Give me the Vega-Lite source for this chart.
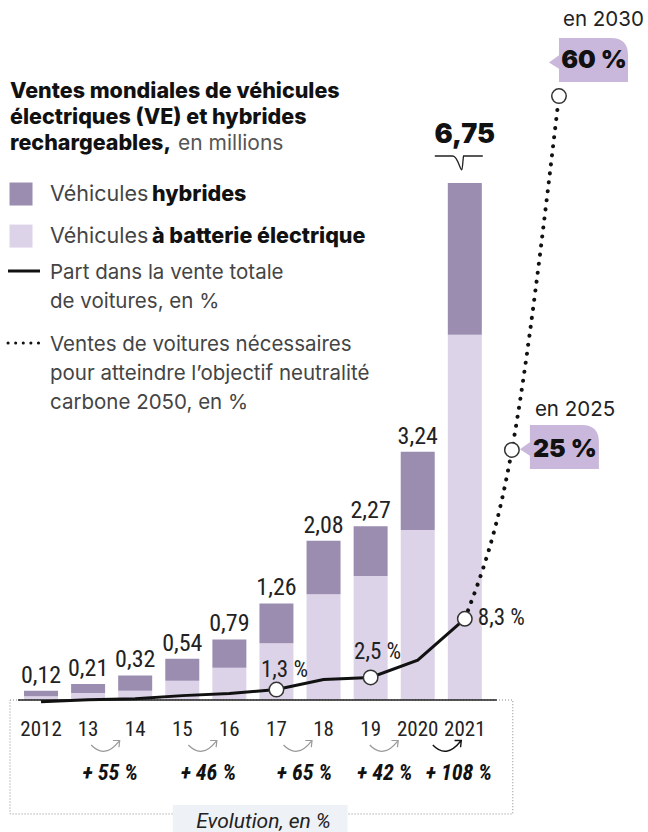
{
  "$schema": "https://vega.github.io/schema/vega-lite/v6.json",
  "width": 600,
  "height": 700,
  "autosize": "none",
  "padding": {"left": 0, "top": 0, "right": 48, "bottom": 132},
  "background": "white",
  "data": {"values": [{}]},
  "config": {
    "view": {"stroke": null},
    "axisX": {"domain": false, "ticks": false, "tickSize": 0, "grid": false, "labelFont": "Roboto Condensed, Liberation Sans Narrow, DejaVu Sans Condensed, Roboto", "labelFontSize": 21, "labelColor": "#222", "labelBaseline": "alphabetic", "labelPadding": 35, "labelAngle": 0, "titleOpacity": 0},
    "axisY": {"disable": true},
    "locale": {"number": {"decimal": ",", "thousands": " ", "grouping": [3], "currency": ["", " €"]}}
  },
  "datasets": {
    "sales": [
      {"year": "2012", "type": "batterie", "value": 0.05}, {"year": "2012", "type": "hybrides", "value": 0.07},
      {"year": "2013", "type": "batterie", "value": 0.09}, {"year": "2013", "type": "hybrides", "value": 0.12},
      {"year": "2014", "type": "batterie", "value": 0.12}, {"year": "2014", "type": "hybrides", "value": 0.20},
      {"year": "2015", "type": "batterie", "value": 0.25}, {"year": "2015", "type": "hybrides", "value": 0.29},
      {"year": "2016", "type": "batterie", "value": 0.42}, {"year": "2016", "type": "hybrides", "value": 0.37},
      {"year": "2017", "type": "batterie", "value": 0.74}, {"year": "2017", "type": "hybrides", "value": 0.52},
      {"year": "2018", "type": "batterie", "value": 1.38}, {"year": "2018", "type": "hybrides", "value": 0.70},
      {"year": "2019", "type": "batterie", "value": 1.62}, {"year": "2019", "type": "hybrides", "value": 0.65},
      {"year": "2020", "type": "batterie", "value": 2.22}, {"year": "2020", "type": "hybrides", "value": 1.02},
      {"year": "2021", "type": "batterie", "value": 4.77}, {"year": "2021", "type": "hybrides", "value": 1.98}
    ],
    "share": [
      {"year": "2012", "share": 0.1}, {"year": "2013", "share": 0.3}, {"year": "2014", "share": 0.4},
      {"year": "2015", "share": 0.7}, {"year": "2016", "share": 0.9}, {"year": "2017", "share": 1.3},
      {"year": "2018", "share": 2.3}, {"year": "2019", "share": 2.5}, {"year": "2020", "share": 4.2},
      {"year": "2021", "share": 8.3}
    ],
    "target": [
      {"year": "2021", "share": 8.3}, {"year": "2025", "share": 25}, {"year": "2030", "share": 60}
    ]
  },
  "layer": [
    {
      "layer": [
        {
          "data": {"name": "sales"},
          "mark": {"type": "bar"},
          "encoding": {
            "x": {"field": "year", "type": "nominal", "title": null,
                  "scale": {"domain": ["2012","2013","2014","2015","2016","2017","2018","2019","2020","2021","2025","2030"], "paddingInner": 0.278, "paddingOuter": 0.51},
                  "axis": {"title": null, "labelExpr": "datum.value == '2025' || datum.value == '2030' ? '' : (datum.value == '2012' || datum.value == '2020' || datum.value == '2021' ? datum.value : slice(datum.value, 2))"}},
            "y": {"field": "value", "type": "quantitative", "stack": "zero", "scale": {"domain": [0, 9.139], "nice": false, "zero": false}, "axis": null},
            "color": {"field": "type", "type": "nominal", "scale": {"domain": ["batterie", "hybrides"], "range": ["#ddd3e8", "#9a8db0"]}, "legend": null},
            "order": {"field": "type", "sort": "ascending"}
          }
        },
        {
          "mark": {"type": "rect", "fill": null, "stroke": "#888", "strokeWidth": 1, "strokeDash": [1, 2], "xOffset": -31, "x2Offset": 48},
          "encoding": {"x": {"datum": "2012"}, "x2": {"datum": "2021"}, "y": {"datum": 0}, "y2": {"datum": -1.488}}
        },
        {
          "mark": {"type": "rect", "fill": "#eef1f5", "xOffset": -9.5, "x2Offset": 24},
          "encoding": {"x": {"datum": "2015"}, "x2": {"datum": "2018"}, "y": {"datum": -1.371}, "y2": {"datum": -1.75}}
        },
        {
          "mark": {"type": "text", "font": "Roboto", "fontStyle": "italic", "fontSize": 21, "color": "#222", "baseline": "alphabetic", "align": "center", "dx": -13, "text": "Evolution, en %"},
          "encoding": {"x": {"datum": "2017"}, "y": {"datum": -1.671}}
        },
        {
          "mark": {"type": "rule", "color": "#222", "strokeWidth": 1.5, "xOffset": -23, "x2Offset": 32},
          "encoding": {"x": {"datum": "2012"}, "x2": {"datum": "2021"}, "y": {"datum": 0}}
        },
        {
          "data": {"name": "sales"},
          "transform": [{"aggregate": [{"op": "sum", "field": "value", "as": "total"}], "groupby": ["year"]}, {"filter": "datum.year != '2021'"}],
          "mark": {"type": "text", "font": "Roboto Condensed, Liberation Sans Narrow, DejaVu Sans Condensed, Roboto", "fontSize": 24, "baseline": "alphabetic", "dy": -8, "color": "#222"},
          "encoding": {
            "x": {"field": "year", "type": "nominal"},
            "y": {"field": "total", "type": "quantitative"},
            "text": {"field": "total", "type": "quantitative", "format": ".2f"}
          }
        },
        {
          "data": {"name": "sales"},
          "transform": [{"aggregate": [{"op": "sum", "field": "value", "as": "total"}], "groupby": ["year"]}, {"filter": "datum.year == '2021'"}],
          "mark": {"type": "text", "font": "Inter", "fontWeight": 900, "fontSize": 27, "baseline": "alphabetic", "dy": -40, "dx": 0, "color": "#111"},
          "encoding": {
            "x": {"field": "year", "type": "nominal"},
            "y": {"field": "total", "type": "quantitative"},
            "text": {"field": "total", "type": "quantitative", "format": ".2f"}
          }
        },
        {
          "mark": {"type": "point", "shape": "M -1 0 L -0.25 0 C -0.05 0 0.05 0.58 0.12 0.58 C 0.16 0.58 0.17 0.1 0.2 0 L 1 0", "filled": false, "stroke": "#222", "strokeWidth": 1.3, "size": 2304, "opacity": 1, "xOffset": -6, "yOffset": -27},
          "encoding": {"x": {"datum": "2021"}, "y": {"datum": 6.75}}
        },
        {
          "mark": {"type": "text", "font": "Inter", "fontWeight": 800, "fontSize": 21.5, "color": "#111", "align": "left", "baseline": "alphabetic", "lineHeight": 26, "dx": -31,
                   "text": ["Ventes mondiales de véhicules", "électriques (VE) et hybrides", "rechargeables,"]},
          "encoding": {"x": {"datum": "2012"}, "y": {"datum": 7.859}}
        },
        {
          "mark": {"type": "text", "font": "Inter", "fontSize": 21, "color": "#555", "align": "left", "baseline": "alphabetic", "dx": 137, "text": "en millions"},
          "encoding": {"x": {"datum": "2012"}, "y": {"datum": 7.18}}
        },
        {
          "mark": {"type": "point", "shape": "square", "filled": true, "color": "#9a8db0", "opacity": 1, "size": 529, "xOffset": -20},
          "encoding": {"x": {"datum": "2012"}, "y": {"datum": 6.606}}
        },
        {
          "mark": {"type": "point", "shape": "square", "filled": true, "color": "#ddd3e8", "opacity": 1, "size": 529, "xOffset": -20},
          "encoding": {"x": {"datum": "2012"}, "y": {"datum": 6.057}}
        },
        {
          "mark": {"type": "text", "font": "Inter", "fontSize": 21.5, "color": "#444", "align": "left", "baseline": "alphabetic", "dx": 9, "text": "Véhicules"},
          "encoding": {"x": {"datum": "2012"}, "y": {"datum": 6.514}}
        },
        {
          "mark": {"type": "text", "font": "Inter", "fontSize": 21.5, "fontWeight": 800, "color": "#111", "align": "left", "baseline": "alphabetic", "dx": 111, "text": "hybrides"},
          "encoding": {"x": {"datum": "2012"}, "y": {"datum": 6.514}}
        },
        {
          "mark": {"type": "text", "font": "Inter", "fontSize": 21.5, "color": "#444", "align": "left", "baseline": "alphabetic", "dx": 9, "text": "Véhicules"},
          "encoding": {"x": {"datum": "2012"}, "y": {"datum": 5.966}}
        },
        {
          "mark": {"type": "text", "font": "Inter", "fontSize": 21.5, "fontWeight": 800, "color": "#111", "align": "left", "baseline": "alphabetic", "dx": 111, "text": "à batterie électrique"},
          "encoding": {"x": {"datum": "2012"}, "y": {"datum": 5.966}}
        },
        {
          "mark": {"type": "rule", "color": "#111", "strokeWidth": 3, "xOffset": -33, "x2Offset": -1},
          "encoding": {"x": {"datum": "2012"}, "x2": {"datum": "2012"}, "y": {"datum": 5.601}}
        },
        {
          "mark": {"type": "rule", "color": "#111", "strokeWidth": 3, "strokeDash": [0.1, 7.5], "strokeCap": "round", "xOffset": -33, "x2Offset": -1},
          "encoding": {"x": {"datum": "2012"}, "x2": {"datum": "2012"}, "y": {"datum": 4.661}}
        },
        {
          "mark": {"type": "text", "font": "Inter", "fontSize": 20.5, "color": "#444", "align": "left", "baseline": "alphabetic", "lineHeight": 29, "dx": 9,
                   "text": ["Part dans la vente totale", "de voitures, en %"]},
          "encoding": {"x": {"datum": "2012"}, "y": {"datum": 5.496}}
        },
        {
          "mark": {"type": "text", "font": "Inter", "fontSize": 20.5, "color": "#444", "align": "left", "baseline": "alphabetic", "lineHeight": 29, "dx": 9,
                   "text": ["Ventes de voitures nécessaires", "pour atteindre l’objectif neutralité", "carbone 2050, en %"]},
          "encoding": {"x": {"datum": "2012"}, "y": {"datum": 4.556}}
        },
        {
          "mark": {"type": "point", "shape": "M -1 -0.2 Q -0.1 0.75 0.85 -0.45 M 0.45 -0.5 L 0.9 -0.5 L 0.85 -0.05", "filled": false, "stroke": "#999", "strokeWidth": 1.2, "opacity": 1, "size": 900, "xOffset": -29},
          "encoding": {"x": {"datum": "2014"}, "y": {"datum": -0.627}}
        },
        {
          "mark": {"type": "point", "shape": "M -1 -0.2 Q -0.1 0.75 0.85 -0.45 M 0.45 -0.5 L 0.9 -0.5 L 0.85 -0.05", "filled": false, "stroke": "#999", "strokeWidth": 1.2, "opacity": 1, "size": 900, "xOffset": -26},
          "encoding": {"x": {"datum": "2016"}, "y": {"datum": -0.627}}
        },
        {
          "mark": {"type": "point", "shape": "M -1 -0.2 Q -0.1 0.75 0.85 -0.45 M 0.45 -0.5 L 0.9 -0.5 L 0.85 -0.05", "filled": false, "stroke": "#999", "strokeWidth": 1.2, "opacity": 1, "size": 900, "xOffset": -25},
          "encoding": {"x": {"datum": "2018"}, "y": {"datum": -0.627}}
        },
        {
          "mark": {"type": "point", "shape": "M -1 -0.2 Q -0.1 0.75 0.85 -0.45 M 0.45 -0.5 L 0.9 -0.5 L 0.85 -0.05", "filled": false, "stroke": "#999", "strokeWidth": 1.2, "opacity": 1, "size": 900, "xOffset": -33},
          "encoding": {"x": {"datum": "2020"}, "y": {"datum": -0.627}}
        },
        {
          "mark": {"type": "point", "shape": "M -1 -0.2 Q -0.1 0.75 0.85 -0.45 M 0.45 -0.5 L 0.9 -0.5 L 0.85 -0.05", "filled": false, "stroke": "#111", "strokeWidth": 1.4, "opacity": 1, "size": 900, "xOffset": -17},
          "encoding": {"x": {"datum": "2021"}, "y": {"datum": -0.627}}
        },
        {
          "mark": {"type": "text", "font": "Roboto Condensed, Liberation Sans Narrow, DejaVu Sans Condensed, Roboto", "fontWeight": "bold", "fontStyle": "italic", "fontSize": 22, "color": "#111", "baseline": "alphabetic", "dx": -25, "text": "+ 55 %"},
          "encoding": {"x": {"datum": "2014"}, "y": {"datum": -1.044}}
        },
        {
          "mark": {"type": "text", "font": "Roboto Condensed, Liberation Sans Narrow, DejaVu Sans Condensed, Roboto", "fontWeight": "bold", "fontStyle": "italic", "fontSize": 22, "color": "#111", "baseline": "alphabetic", "dx": -21, "text": "+ 46 %"},
          "encoding": {"x": {"datum": "2016"}, "y": {"datum": -1.044}}
        },
        {
          "mark": {"type": "text", "font": "Roboto Condensed, Liberation Sans Narrow, DejaVu Sans Condensed, Roboto", "fontWeight": "bold", "fontStyle": "italic", "fontSize": 22, "color": "#111", "baseline": "alphabetic", "dx": -19, "text": "+ 65 %"},
          "encoding": {"x": {"datum": "2018"}, "y": {"datum": -1.044}}
        },
        {
          "mark": {"type": "text", "font": "Roboto Condensed, Liberation Sans Narrow, DejaVu Sans Condensed, Roboto", "fontWeight": "bold", "fontStyle": "italic", "fontSize": 22, "color": "#111", "baseline": "alphabetic", "dx": -33, "text": "+ 42 %"},
          "encoding": {"x": {"datum": "2020"}, "y": {"datum": -1.044}}
        },
        {
          "mark": {"type": "text", "font": "Roboto Condensed, Liberation Sans Narrow, DejaVu Sans Condensed, Roboto", "fontWeight": "bold", "fontStyle": "italic", "fontSize": 22, "color": "#111", "baseline": "alphabetic", "dx": -6, "text": "+ 108 %"},
          "encoding": {"x": {"datum": "2021"}, "y": {"datum": -1.044}}
        }
      ]
    },
    {
      "layer": [
        {
          "data": {"name": "target"},
          "mark": {"type": "line", "color": "#111", "strokeWidth": 4, "strokeDash": [0.1, 9], "strokeCap": "round", "interpolate": "monotone"},
          "encoding": {
            "x": {"field": "year", "type": "nominal"},
            "y": {"field": "share", "type": "quantitative", "scale": {"domain": [0.267, 69.5], "nice": false, "zero": false}, "axis": null}
          }
        },
        {
          "data": {"name": "share"},
          "mark": {"type": "line", "color": "#111", "strokeWidth": 3},
          "encoding": {
            "x": {"field": "year", "type": "nominal"},
            "y": {"field": "share", "type": "quantitative"}
          }
        },
        {
          "data": {"name": "share"},
          "transform": [{"filter": "datum.year == '2017' || datum.year == '2019' || datum.year == '2021'"}],
          "mark": {"type": "point", "filled": true, "fill": "white", "stroke": "#333", "strokeWidth": 1.5, "opacity": 1, "size": 210},
          "encoding": {
            "x": {"field": "year", "type": "nominal"},
            "y": {"field": "share", "type": "quantitative"}
          }
        },
        {
          "data": {"name": "target"},
          "transform": [{"filter": "datum.year != '2021'"}],
          "mark": {"type": "point", "filled": true, "fill": "white", "stroke": "#333", "strokeWidth": 1.5, "opacity": 1, "size": 210},
          "encoding": {
            "x": {"field": "year", "type": "nominal"},
            "y": {"field": "share", "type": "quantitative"}
          }
        },
        {
          "mark": {"type": "text", "font": "Roboto Condensed, Liberation Sans Narrow, DejaVu Sans Condensed, Roboto", "fontSize": 23, "color": "#222", "baseline": "alphabetic", "dx": 8, "dy": -13, "text": "1,3 %"},
          "encoding": {"x": {"datum": "2017"}, "y": {"datum": 1.3}}
        },
        {
          "mark": {"type": "text", "font": "Roboto Condensed, Liberation Sans Narrow, DejaVu Sans Condensed, Roboto", "fontSize": 23, "color": "#222", "baseline": "alphabetic", "dx": 7, "dy": -18, "text": "2,5 %"},
          "encoding": {"x": {"datum": "2019"}, "y": {"datum": 2.5}}
        },
        {
          "mark": {"type": "text", "font": "Roboto Condensed, Liberation Sans Narrow, DejaVu Sans Condensed, Roboto", "fontSize": 23, "color": "#222", "baseline": "alphabetic", "align": "left", "dx": 13, "dy": 6, "text": "8,3 %"},
          "encoding": {"x": {"datum": "2021"}, "y": {"datum": 8.3}}
        },
        {
          "mark": {"type": "point", "shape": "M -0.75 -0.55 L 0.55 -0.55 Q 0.975 -0.55 0.975 -0.12 L 0.975 0.55 L -0.75 0.55 L -0.75 0.22 L -1 0.06 L -0.75 -0.12 Z", "filled": true, "fill": "#c9b8dc", "strokeWidth": 0, "opacity": 1, "size": 6400, "xOffset": 48, "yOffset": -3},
          "encoding": {"x": {"datum": "2025"}, "y": {"datum": 25}}
        },
        {
          "mark": {"type": "point", "shape": "M -0.75 -0.55 L 0.55 -0.55 Q 0.975 -0.55 0.975 -0.12 L 0.975 0.55 L -0.75 0.55 L -0.75 0.22 L -1 0.06 L -0.75 -0.12 Z", "filled": true, "fill": "#c9b8dc", "strokeWidth": 0, "opacity": 1, "size": 6400, "xOffset": 30, "yOffset": -36},
          "encoding": {"x": {"datum": "2030"}, "y": {"datum": 60}}
        },
        {
          "mark": {"type": "text", "font": "Inter", "fontWeight": 900, "fontSize": 25, "color": "#111", "baseline": "alphabetic", "dx": 53, "dy": 7, "text": "25 %"},
          "encoding": {"x": {"datum": "2025"}, "y": {"datum": 25}}
        },
        {
          "mark": {"type": "text", "font": "Inter", "fontWeight": 900, "fontSize": 25, "color": "#111", "baseline": "alphabetic", "dx": 35, "dy": -28, "text": "60 %"},
          "encoding": {"x": {"datum": "2030"}, "y": {"datum": 60}}
        },
        {
          "mark": {"type": "text", "font": "Inter", "fontSize": 20.5, "color": "#222", "baseline": "alphabetic", "align": "left", "dx": 23, "dy": -34, "text": "en 2025"},
          "encoding": {"x": {"datum": "2025"}, "y": {"datum": 25}}
        },
        {
          "mark": {"type": "text", "font": "Inter", "fontSize": 20.5, "color": "#222", "baseline": "alphabetic", "align": "left", "dx": 4, "dy": -70, "text": "en 2030"},
          "encoding": {"x": {"datum": "2030"}, "y": {"datum": 60}}
        }
      ]
    }
  ],
  "resolve": {"scale": {"y": "independent"}}
}
